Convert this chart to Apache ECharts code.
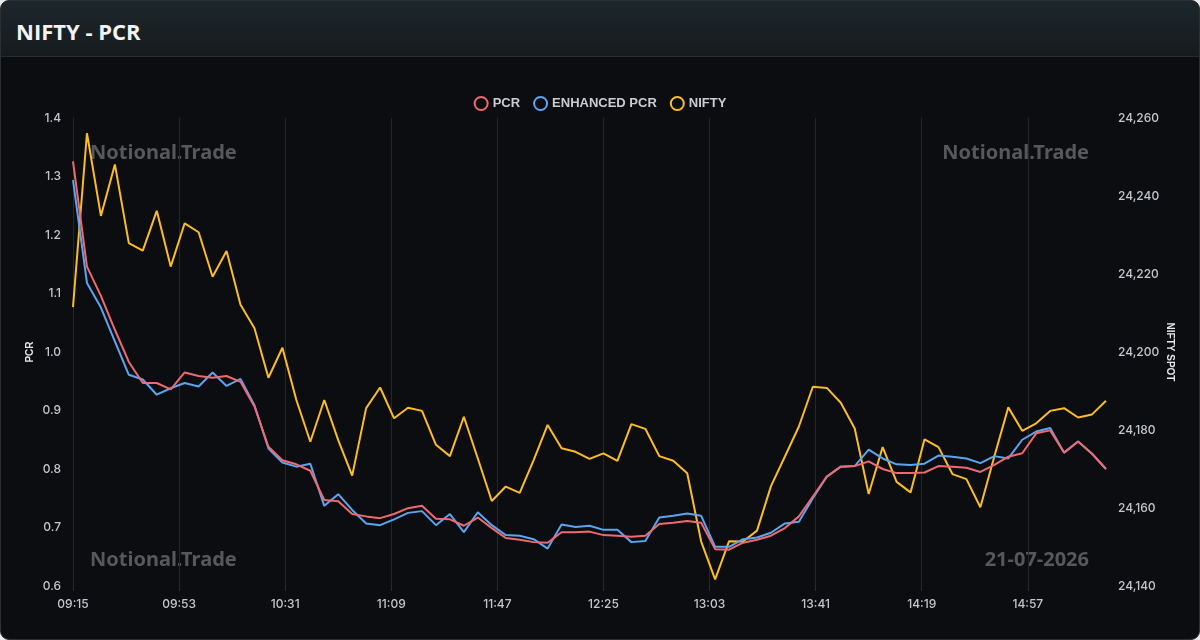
<!DOCTYPE html>
<html>
<head>
<meta charset="utf-8">
<script src="https://cdn.jsdelivr.net/npm/echarts@6/dist/echarts.min.js"></script>
<style>
  html, body { margin: 0; padding: 0; width: 1200px; height: 640px; background: #e9eaeb; overflow: hidden; }
  #card { position: absolute; left: 0; top: 0; width: 1198px; height: 638px; border: 1px solid #2a3034; border-radius: 9px; overflow: hidden; background: #0c0d10; }
  #header { position: absolute; left: 0; top: 0; width: 100%; height: 55px; background: linear-gradient(#1c272b, #171b1e); border-bottom: 1px solid #262c30; }
  #title { position: absolute; left: 15px; top: 15px; font-family: "Open Sans", "Noto Sans", sans-serif; font-weight: 700; font-size: 22px; color: #f2f3f4; line-height: 30px; }
  #chart { position: absolute; left: 0; top: 0; width: 1200px; height: 640px; }
</style>
</head>
<body>
<div id="card"><div id="header"><div id="title">NIFTY - PCR</div></div></div>
<div id="chart"></div>
<script>
// ---- data ----
const times = [
  '09:15','09:20','09:25','09:30','09:35','09:40','09:45','09:50','09:55','10:00',
  '10:05','10:10','10:15','10:20','10:25','10:30','10:35','10:40','10:45','10:50',
  '10:55','11:00','11:05','11:10','11:15','11:20','11:25','11:30','11:35','11:40',
  '11:45','11:50','11:55','12:00','12:05','12:10','12:15','12:20','12:25','12:30',
  '12:35','12:40','12:45','12:50','12:55','13:00','13:05','13:10','13:15','13:20',
  '13:25','13:30','13:35','13:40','13:45','13:50','13:55','14:00','14:05','14:10',
  '14:15','14:20','14:25','14:30','14:35','14:40','14:45','14:50','14:55','15:00',
  '15:05','15:10','15:15','15:20','15:25'
];
const pcr = [
  1.326, 1.146, 1.096, 1.038, 0.983, 0.947, 0.947, 0.936, 0.965, 0.959,
  0.956, 0.959, 0.949, 0.907, 0.838, 0.815, 0.808, 0.797, 0.747, 0.745,
  0.723, 0.719, 0.716, 0.723, 0.733, 0.737, 0.715, 0.714, 0.703, 0.717,
  0.699, 0.682, 0.679, 0.675, 0.674, 0.692, 0.692, 0.693, 0.687, 0.686,
  0.684, 0.686, 0.706, 0.708, 0.711, 0.708, 0.663, 0.662, 0.674, 0.679,
  0.686, 0.699, 0.719, 0.753, 0.787, 0.804, 0.805, 0.813, 0.800, 0.793,
  0.793, 0.794, 0.805, 0.804, 0.802, 0.795, 0.807, 0.821, 0.827, 0.861,
  0.866, 0.828, 0.847, 0.826, 0.800
];
const enhancedPcr = [
  1.294, 1.118, 1.076, 1.018, 0.961, 0.953, 0.927, 0.938, 0.947, 0.941,
  0.965, 0.942, 0.954, 0.909, 0.835, 0.811, 0.804, 0.809, 0.737, 0.757,
  0.730, 0.707, 0.704, 0.714, 0.725, 0.728, 0.704, 0.723, 0.692, 0.726,
  0.704, 0.687, 0.686, 0.680, 0.664, 0.705, 0.701, 0.703, 0.696, 0.696,
  0.675, 0.677, 0.717, 0.720, 0.724, 0.720, 0.667, 0.667, 0.680, 0.683,
  0.691, 0.707, 0.710, 0.750, 0.787, 0.804, 0.805, 0.833, 0.818, 0.808,
  0.807, 0.809, 0.823, 0.821, 0.818, 0.810, 0.822, 0.818, 0.850, 0.864,
  0.870, 0.828, 0.847, 0.826, 0.800
];
const nifty = [
  24211.5, 24256.1, 24234.9, 24248.1, 24227.9, 24226.0, 24236.2, 24221.9, 24233.0, 24230.7,
  24219.3, 24225.9, 24212.1, 24206.1, 24193.4, 24201.1, 24187.7, 24177.0, 24187.7, 24177.4,
  24168.3, 24185.6, 24190.9, 24183.0, 24185.7, 24184.9, 24176.2, 24173.3, 24183.4, 24172.7,
  24161.8, 24165.5, 24163.9, 24172.3, 24181.3, 24175.3, 24174.4, 24172.6, 24174.0, 24172.1,
  24181.5, 24180.3, 24173.3, 24172.1, 24168.9, 24151.4, 24141.7, 24151.5, 24151.4, 24154.2,
  24165.6, 24173.2, 24180.9, 24191.1, 24190.8, 24187.0, 24180.4, 24163.6, 24175.6, 24166.7,
  24164.0, 24177.6, 24175.6, 24168.7, 24167.4, 24160.2, 24173.2, 24185.8, 24179.8, 24181.7,
  24184.9, 24185.6, 24183.2, 24184.0, 24187.5
];
const seriesNames = ['PCR', 'ENHANCED PCR', 'NIFTY'];
const seriesColors = ['#ee6a70', '#5aa5f2', '#fbbd23'];
const sessionStart = '09:15';
const sessionEnd = '15:25';
const pcrTicks = { min: 0.6, max: 1.4, interval: 0.1 };
const niftyTicks = { min: 24140, max: 24260, interval: 20 };
const watermarkText = 'Notional.Trade';
const dateText = '21-07-2026';

// minute-by-minute category axis
function toMin(s) { const p = s.split(':'); return +p[0] * 60 + +p[1]; }
function toLabel(m) { const h = Math.floor(m / 60), mm = m % 60; return (h < 10 ? '0' : '') + h + ':' + (mm < 10 ? '0' : '') + mm; }
const categories = [];
for (let m = toMin(sessionStart); m <= toMin(sessionEnd); m++) categories.push(toLabel(m));

const pair = (arr) => arr.map((v, i) => [times[i], v]);

const labelFont = { color: '#c3c7cc', fontSize: 12, fontFamily: 'Inter, "Liberation Sans", sans-serif', fontWeight: 500 };
const wm = { fontSize: 20, fontWeight: 'bold', fontFamily: '"Noto Sans", "Open Sans", sans-serif', fill: '#56585c' };

const chart = echarts.init(document.getElementById('chart'), null, { renderer: 'canvas' });
chart.setOption({
  backgroundColor: 'transparent',
  animation: false,
  grid: { left: 73, right: 94, top: 118, bottom: 54, containLabel: false },
  legend: {
    top: 91, left: 'center', itemWidth: 13, itemHeight: 13, itemGap: 13,
    icon: 'circle',
    textStyle: { color: '#c9cdd2', fontSize: 13, fontWeight: 'bold', fontFamily: '"Liberation Sans", Arial, sans-serif' },
    data: seriesNames.map((n, i) => ({ name: n, itemStyle: { color: '#0c0d10', borderColor: seriesColors[i], borderWidth: 2 } }))
  },
  graphic: [
    { type: 'text', left: 90, top: 143, z: 0, style: Object.assign({ text: watermarkText }, wm) },
    { type: 'text', right: 111, top: 143, z: 0, style: Object.assign({ text: watermarkText }, wm) },
    { type: 'text', left: 90, top: 550, z: 0, style: Object.assign({ text: watermarkText }, wm) },
    { type: 'text', right: 111, top: 550, z: 0, style: Object.assign({ text: dateText }, wm) }
  ],
  xAxis: {
    type: 'category', data: categories, boundaryGap: false,
    axisLine: { show: false },
    axisTick: { show: true, interval: 37, length: 5, lineStyle: { color: '#2a2d31' } },
    axisLabel: Object.assign({ interval: 37, margin: 12 }, labelFont),
    splitLine: { show: true, interval: 37, lineStyle: { color: '#24272b', width: 1 } }
  },
  yAxis: [
    {
      type: 'value', min: pcrTicks.min, max: pcrTicks.max, interval: pcrTicks.interval, position: 'left',
      name: 'PCR', nameLocation: 'middle', nameGap: 38, nameMoveOverlap: false,
      nameTextStyle: { color: '#e4e6e8', fontSize: 10, fontWeight: 'bold', fontFamily: '"Liberation Sans", Arial, sans-serif' },
      axisLine: { show: true, lineStyle: { color: '#24272b' } }, axisTick: { show: false },
      axisLabel: Object.assign({ margin: 12, formatter: v => v.toFixed(1) }, labelFont),
      splitLine: { show: false }
    },
    {
      type: 'value', min: niftyTicks.min, max: niftyTicks.max, interval: niftyTicks.interval, position: 'right',
      name: 'NIFTY SPOT', nameLocation: 'middle', nameGap: 59, nameRotate: -90, nameMoveOverlap: false,
      nameTextStyle: { color: '#e4e6e8', fontSize: 10, fontWeight: 'bold', fontFamily: '"Liberation Sans", Arial, sans-serif' },
      axisLine: { show: false }, axisTick: { show: false },
      axisLabel: Object.assign({ margin: 12, formatter: v => v.toLocaleString('en-US') }, labelFont),
      splitLine: { show: false }
    }
  ],
  series: [
    { name: seriesNames[0], type: 'line', yAxisIndex: 0, data: pair(pcr), showSymbol: false, symbol: 'emptyCircle', z: 4,
      lineStyle: { color: seriesColors[0], width: 2 }, itemStyle: { color: seriesColors[0] } },
    { name: seriesNames[1], type: 'line', yAxisIndex: 0, data: pair(enhancedPcr), showSymbol: false, symbol: 'emptyCircle', z: 3,
      lineStyle: { color: seriesColors[1], width: 2 }, itemStyle: { color: seriesColors[1] } },
    { name: seriesNames[2], type: 'line', yAxisIndex: 1, data: pair(nifty), showSymbol: false, symbol: 'emptyCircle', z: 2,
      lineStyle: { color: seriesColors[2], width: 2 }, itemStyle: { color: seriesColors[2] } }
  ]
});
</script>
</body>
</html>
